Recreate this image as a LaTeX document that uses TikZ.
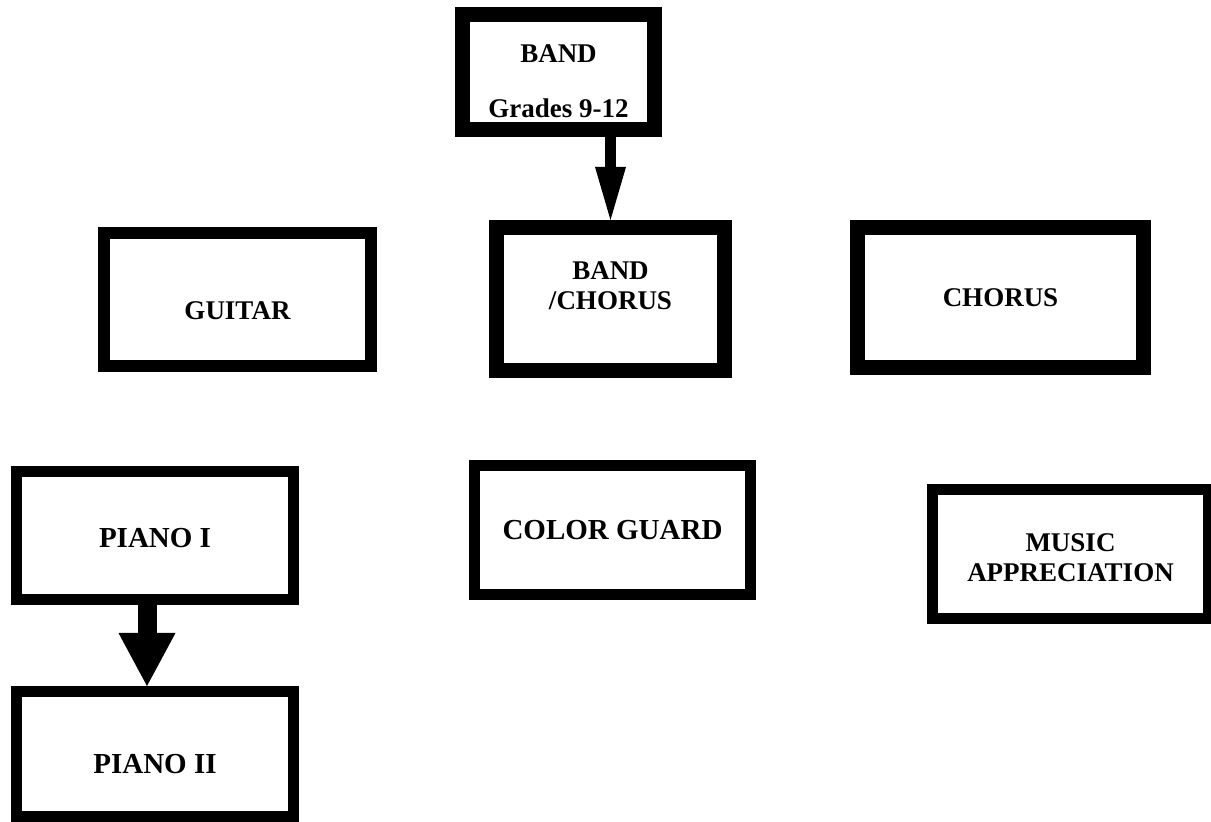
\documentclass[tikz,border=0pt]{standalone}
\usepackage{fontspec}
\setmainfont{Liberation Serif}
\usetikzlibrary{arrows.meta,positioning}

% move the text of a box up or down without changing the box
\newcommand{\nudge}[2]{\raisebox{#1}[\height][\depth]{#2}}

\begin{document}
\begin{tikzpicture}[
    x=0.5pt, y=-0.5pt,
    box/.style={rectangle, draw, fill=white, line width=5.5pt, inner sep=0pt,
                align=center, font=\fontsize{13.5}{15}\selectfont\bfseries},
    heavybox/.style={box, line width=7.5pt},
    bigfont/.style={font=\fontsize{14.5}{16}\selectfont\bfseries},
    bigarrow/.style={-{Triangle[length=26.5pt, width=15.5pt, line width=0pt]}, line width=5.5pt},
    widearrow/.style={-{Triangle[length=26.5pt, width=28.5pt, line width=0pt]}, line width=9.5pt}
  ]
    \useasboundingbox (0,0) rectangle (1211,822);

    \node[heavybox, minimum width=96pt, minimum height=57.5pt] (band) at (558.5,72)
      {\nudge{-6pt}{\begin{tabular}{@{}c@{}}BAND\\[12.5pt]Grades 9-12\end{tabular}}};
    \node[heavybox, minimum width=114pt, minimum height=71.5pt] (bandchorus) at (610.5,299)
      {\nudge{5pt}{\begin{tabular}{@{}c@{}}BAND\\/CHORUS\end{tabular}}};
    \node[box, line width=6pt, minimum width=133.5pt, minimum height=66.5pt] (guitar) at (237.5,299.5)
      {\nudge{-5.5pt}{GUITAR}};
    \node[heavybox, minimum width=143pt, minimum height=70pt] (chorus) at (1000.5,297.5) {CHORUS};

    \node[box, bigfont, minimum width=138.5pt, minimum height=64pt] (piano1) at (155,535.5)
      {\nudge{-1.5pt}{PIANO I}};
    \node[box, bigfont, minimum width=138.5pt, minimum height=62.5pt, below=40.5pt of piano1] (piano2)
      {\nudge{-5pt}{PIANO II}};
    \node[box, bigfont, minimum width=138pt, minimum height=64.5pt] (colorguard) at (612.5,530) {COLOR GUARD};
    \node[box, minimum width=138pt, minimum height=64.5pt] (music) at (1070.5,554)
      {\nudge{-3.5pt}{\begin{tabular}{@{}c@{}}MUSIC\\APPRECIATION\end{tabular}}};

    \draw[bigarrow] (bandchorus.north |- band.south) -- (bandchorus.north);
    \draw[widearrow] ([xshift=-4pt]piano1.south) -- ([xshift=-4pt]piano2.north);
\end{tikzpicture}
\end{document}
